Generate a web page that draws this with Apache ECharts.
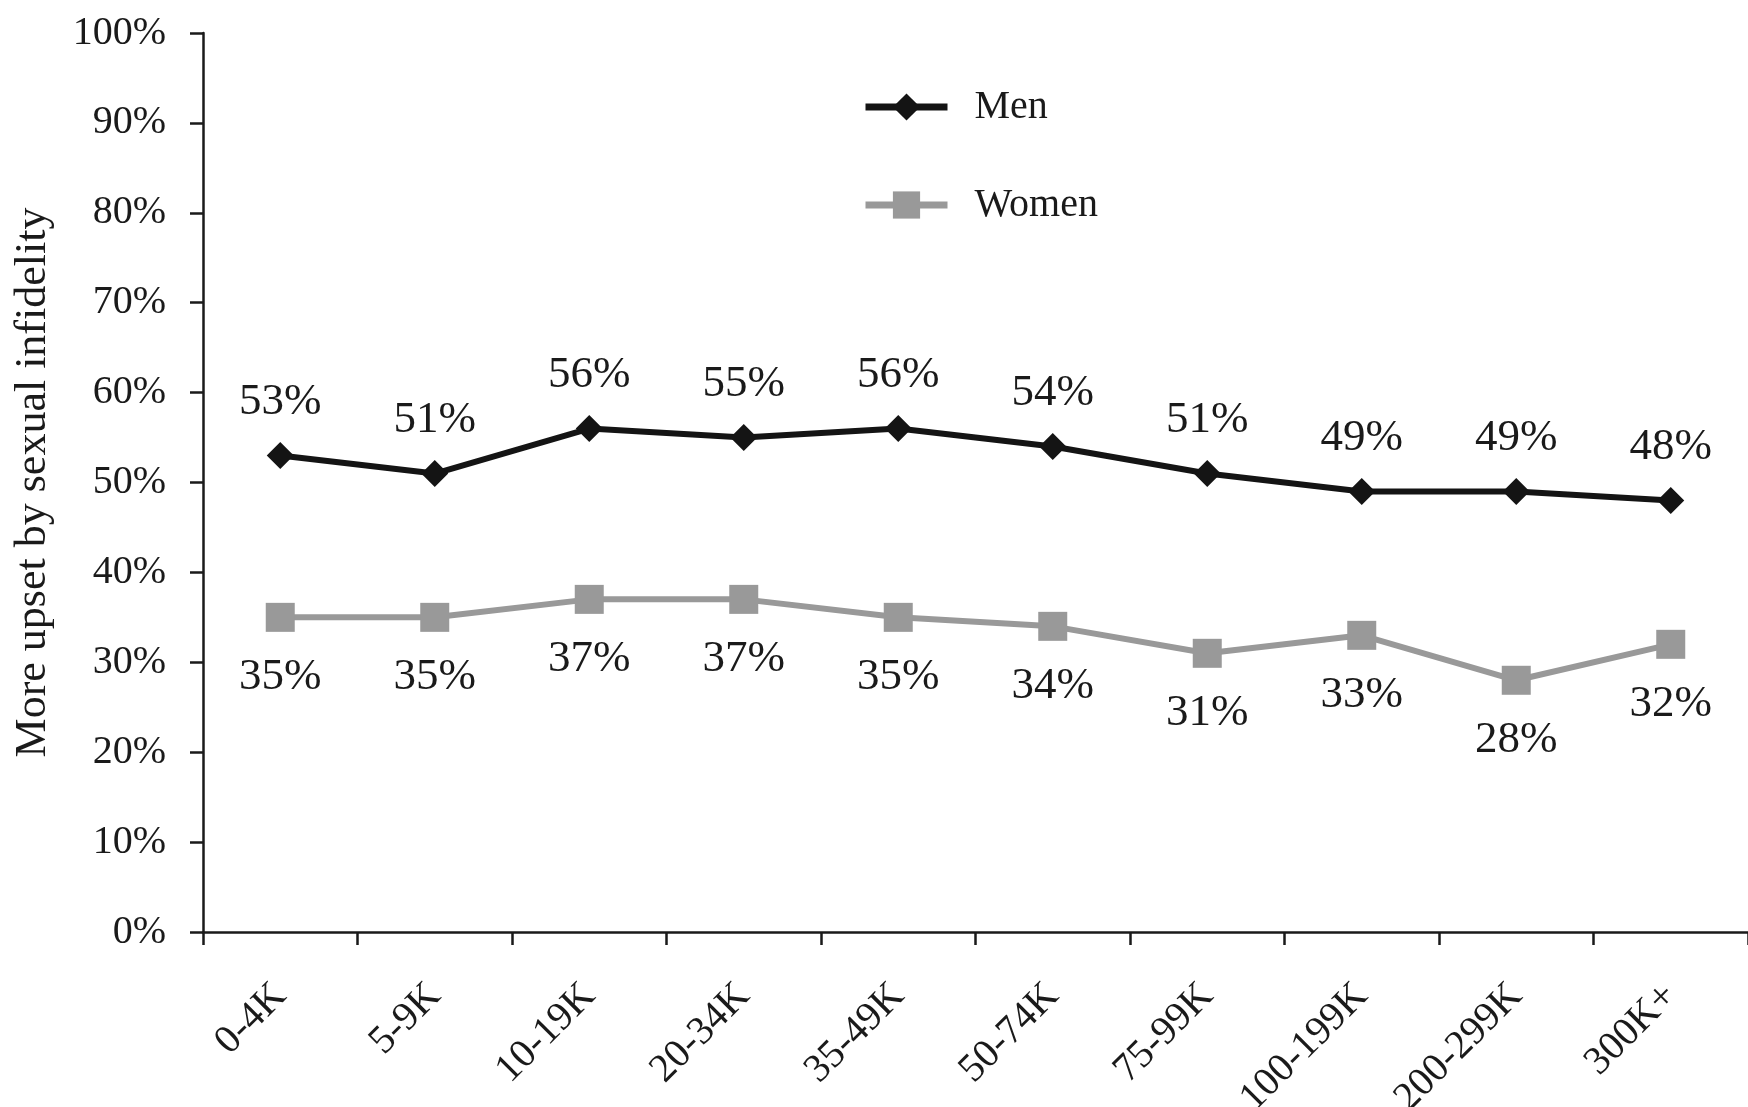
<!DOCTYPE html>
<html><head><meta charset="utf-8">
<script src="https://cdn.jsdelivr.net/npm/echarts@6/dist/echarts.min.js"></script>
<style>html,body{margin:0;padding:0;background:#fff}#c{width:1748px;height:1107px}</style>
</head><body><div id="c"></div>
<script>
const categories = ['0-4K','5-9K','10-19K','20-34K','35-49K','50-74K','75-99K','100-199K','200-299K','300K+'];
const men = [53,51,56,55,56,54,51,49,49,48];
const women = [35,35,37,37,35,34,31,33,28,32];
const yTitle = 'More upset by sexual infidelity';
const FONT = '"Liberation Serif","Times New Roman",serif';
const chart = echarts.init(document.getElementById('c'));
chart.setOption({
  animation:false,
  backgroundColor:'#fff',
  grid:{left:203,right:0,top:33,bottom:175,containLabel:false,outerBoundsMode:'none'},
  legend:{
    orient:'vertical',left:857,top:82,itemGap:58,itemWidth:82,itemHeight:34,
    textStyle:{fontFamily:FONT,fontSize:40,color:'#1a1a1a',padding:[0,0,0,22]},
    lineStyle:{width:7},
    data:['Men','Women']
  },
  xAxis:{
    type:'category',data:categories,boundaryGap:true,
    axisLine:{lineStyle:{color:'#1a1a1a',width:2.5}},
    axisTick:{show:true,length:13,inside:false,alignWithLabel:false,lineStyle:{color:'#1a1a1a',width:2.5}},
    axisLabel:{rotate:45,interval:0,margin:58,fontFamily:FONT,fontSize:40,color:'#1a1a1a'}
  },
  yAxis:{
    type:'value',min:0,max:100,interval:10,
    name:yTitle,nameLocation:'middle',nameGap:148,
    nameTextStyle:{fontFamily:FONT,fontSize:44,color:'#1a1a1a'},
    splitLine:{show:false},
    axisLine:{show:true,lineStyle:{color:'#1a1a1a',width:2.5}},
    axisTick:{show:true,length:13,lineStyle:{color:'#1a1a1a',width:2.5}},
    axisLabel:{formatter:'{value}%',margin:37,fontFamily:FONT,fontSize:40,color:'#1a1a1a'}
  },
  series:[
    {name:'Men',type:'line',data:men,symbol:'diamond',symbolSize:27,
     lineStyle:{color:'#141414',width:6},itemStyle:{color:'#141414'},
     label:{show:true,position:'top',distance:17,formatter:'{c}%',fontFamily:FONT,fontSize:45,color:'#1a1a1a'}},
    {name:'Women',type:'line',data:women,symbol:'rect',symbolSize:29,
     lineStyle:{color:'#999999',width:6},itemStyle:{color:'#999999'},
     label:{show:true,position:'bottom',distance:23,formatter:'{c}%',fontFamily:FONT,fontSize:45,color:'#1a1a1a'}}
  ]
});
</script></body></html>
